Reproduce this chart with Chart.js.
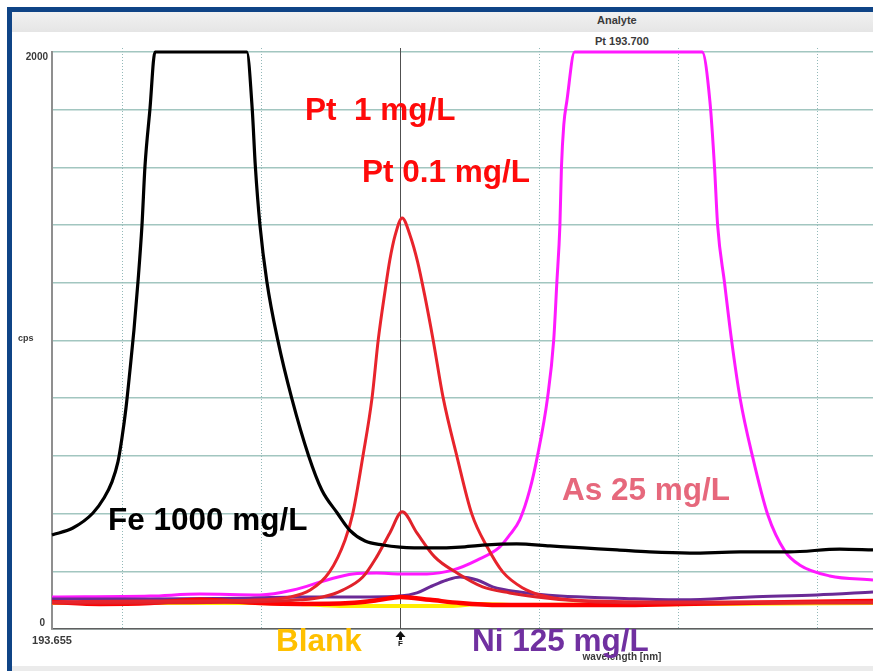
<!DOCTYPE html>
<html><head><meta charset="utf-8">
<script src="https://cdn.jsdelivr.net/npm/chart.js@4"></script>
<style>
html,body{margin:0;padding:0;width:873px;height:671px;overflow:hidden;background:#fff;font-family:"Liberation Sans",Arial,sans-serif;}
#frameL{position:absolute;left:7px;top:7px;width:5px;height:664px;background:#0f4486;}
#frameT{position:absolute;left:7px;top:7px;width:866px;height:5px;background:#0f4486;}
#hdr{position:absolute;left:12px;top:12px;width:861px;height:20px;background:linear-gradient(#f1f1f1,#e5e5e5);}
#ftr{position:absolute;left:12px;top:666px;width:861px;height:5px;background:#ebebeb;}
.small{position:absolute;font-weight:bold;font-size:11px;color:#3a3a3a;white-space:nowrap;line-height:11px;}
#wrap{position:absolute;left:0;top:0;width:873px;height:671px;}
</style></head>
<body>
<div id="frameL"></div><div id="frameT"></div><div id="hdr"></div><div id="ftr"></div>
<div class="small" style="left:597px;top:15px;">Analyte</div>
<div class="small" style="left:595px;top:36px;">Pt 193.700</div>
<div id="wrap"><canvas id="c" width="873" height="671"></canvas></div>
<script>
// ---- data (wavelength in nm, intensity in cps) ----
const xGrid = [193.664, 193.682, 193.700, 193.718, 193.736, 193.754];
const yTickLabels = ['0', '2000'];
const xTickLabel = '193.655';

const feWl  = [193.6550,193.6577,193.6603,193.66172,193.66276,193.66353,193.66405,193.66457,193.66509,193.66560,193.66612,193.66664,193.66703,193.66767,193.66832,193.6802,193.6809,193.6813,193.6819,193.6828,193.6842,193.6860,193.6882,193.6899,193.6919,193.6935,193.6955,193.6978,193.7000,193.7043,193.7078,193.7107,193.7151,193.7194,193.7237,193.7281,193.7323,193.7375,193.7440,193.7504,193.7569,193.7612];
const feCps = [326,350,402,454,510,579,662,766,898,1036,1203,1400,1605,1802,2000,2000,1802,1605,1400,1203,1002,801,600,482,402,343,305,291,284,281,284,291,295,288,281,274,267,263,267,267,277,274];

const pt1Wl  = [193.6550,193.6677,193.6806,193.6858,193.6884,193.6909,193.6929,193.6939,193.6952,193.6964,193.6972,193.6981,193.6987,193.6994,193.7003,193.7013,193.7023,193.7032,193.7043,193.7056,193.7074,193.7093,193.7113,193.7133,193.7159,193.7181,193.7220,193.7323,193.7612];
const pt1Cps = [94,97,100,111,135,198,308,399,596,801,1002,1175,1279,1366,1425,1366,1272,1158,1002,801,596,399,284,198,142,118,101,94,94];

const pt01Wl  = [193.6550,193.6806,193.6871,193.6900,193.6926,193.6952,193.6970,193.6987,193.7003,193.7022,193.7045,193.7074,193.7107,193.7142,193.7177,193.7233,193.7323,193.7612];
const pt01Cps = [90,94,101,111,135,180,250,333,406,333,250,194,146,125,111,97,90,90];

const redBaseWl  = [193.6550,193.6612,193.6677,193.6741,193.6819,193.6871,193.6935,193.6974,193.7000,193.7039,193.7078,193.7129,193.7207,193.7284,193.7362,193.7440,193.7517,193.7612];
const redBaseCps = [94,87,90,101,90,87,90,101,111,101,90,83,83,83,87,90,94,97];

const blankWl  = [193.6550,193.6806,193.6871,193.6922,193.7000,193.7065,193.7103,193.7155,193.7612];
const blankCps = [90,90,87,80,80,80,87,83,90];

const niWl  = [193.6550,193.6677,193.6806,193.6871,193.6961,193.7000,193.7022,193.7039,193.7061,193.7078,193.7100,193.7120,193.7155,193.7207,193.7281,193.7366,193.7453,193.7539,193.7612];
const niCps = [104,104,107,111,111,114,125,146,170,180,170,146,128,114,107,101,111,118,128];

const asWl  = [193.6550,193.6677,193.6741,193.6819,193.6862,193.6906,193.6939,193.6970,193.7000,193.7035,193.7069,193.7100,193.7129,193.7142,193.7155,193.7168,193.7178,193.7191,193.7199,193.7203,193.7207,193.7209,193.7212,193.7216,193.7226,193.7391,193.7401,193.7407,193.7411,193.7420,193.7429,193.7440,193.7456,193.7476,193.7498,193.7517,193.7556,193.7612];
const asCps = [111,114,121,118,135,170,191,194,191,191,205,239,284,326,378,482,600,801,1002,1199,1400,1601,1747,1830,2000,2000,1830,1601,1400,1199,1002,801,600,395,270,222,184,170];

// ---- helpers ----
const pts = (w, c) => w.map((v, i) => ({x: v, y: c[i]}));
const FONT = "'Liberation Sans', Arial, sans-serif";

const annotations = [
  {text: 'Pt  1 mg/L',   color: '#ff0a0a', x: 305, y: 120},
  {text: 'Pt 0.1 mg/L',  color: '#ff0a0a', x: 362, y: 182},
  {text: 'As 25 mg/L',   color: '#e6687c', x: 562, y: 500},
  {text: 'Fe 1000 mg/L', color: '#000000', x: 108, y: 530},
  {text: 'Blank',        color: '#ffc000', x: 276, y: 651},
  {text: 'Ni 125 mg/L',  color: '#7030a0', x: 472, y: 651}
];

const decor = {
  id: 'decor',
  beforeDatasetsDraw(chart) {
    const {ctx, chartArea: a, scales: {x}} = chart;
    ctx.save();
    xGrid.forEach(v => {
      const px = Math.round(x.getPixelForValue(v)) + 0.5;
      if (Math.abs(v - 193.7) < 1e-9) {
        ctx.strokeStyle = '#505050'; ctx.setLineDash([]); ctx.lineWidth = 1;
      } else {
        ctx.strokeStyle = '#93b9b9'; ctx.setLineDash([1, 2]); ctx.lineWidth = 1;
      }
      ctx.beginPath(); ctx.moveTo(px, a.top - 4); ctx.lineTo(px, a.bottom); ctx.stroke();
    });
    ctx.restore();
  },
  afterDraw(chart) {
    const {ctx, chartArea: a, scales: {x, y}} = chart;
    ctx.save();
    ctx.fillStyle = '#3a3a3a';
    ctx.font = 'bold 10px ' + FONT;
    ctx.textAlign = 'right'; ctx.textBaseline = 'middle';
    ctx.fillText(yTickLabels[1], a.left - 4, y.getPixelForValue(2000) + 5);
    ctx.fillText(yTickLabels[0], a.left - 7, y.getPixelForValue(0) - 6);
    ctx.font = 'bold 9px ' + FONT;
    ctx.textAlign = 'left';
    ctx.fillText('cps', 18, y.getPixelForValue(1000) - 2);
    ctx.font = 'bold 11px ' + FONT;
    ctx.textAlign = 'center'; ctx.textBaseline = 'top';
    ctx.fillText(xTickLabel, x.getPixelForValue(193.655), a.bottom + 6);
    ctx.font = 'bold 10px ' + FONT;
    ctx.fillText('wavelength [nm]', 622, 652);
    const fx = Math.round(x.getPixelForValue(193.7)) + 0.5;
    ctx.fillStyle = '#111';
    ctx.beginPath();
    ctx.moveTo(fx, a.bottom + 2); ctx.lineTo(fx - 5, a.bottom + 8); ctx.lineTo(fx + 5, a.bottom + 8); ctx.closePath(); ctx.fill();
    ctx.fillRect(fx - 1.5, a.bottom + 8, 3, 3);
    ctx.font = 'bold 8px ' + FONT;
    ctx.textAlign = 'center'; ctx.textBaseline = 'top';
    ctx.fillText('F', fx, a.bottom + 11);
    ctx.font = 'bold 31.5px ' + FONT;
    ctx.textAlign = 'left'; ctx.textBaseline = 'alphabetic';
    annotations.forEach(t => { ctx.fillStyle = t.color; ctx.fillText(t.text, t.x, t.y); });
    ctx.restore();
  }
};

new Chart(document.getElementById('c'), {
  type: 'line',
  data: {
    datasets: [
      {label: 'Fe 1000 mg/L', data: pts(feWl, feCps), borderColor: '#000000', borderWidth: 3.2},
      {label: 'Pt 1 mg/L', data: pts(pt1Wl, pt1Cps), borderColor: '#e8242c', borderWidth: 3},
      {label: 'Pt 0.1 mg/L', data: pts(pt01Wl, pt01Cps), borderColor: '#e0222a', borderWidth: 3},
      {label: 'Pt baseline', data: pts(redBaseWl, redBaseCps), borderColor: '#ff0000', borderWidth: 4.5},
      {label: 'Ni 125 mg/L', data: pts(niWl, niCps), borderColor: '#6a2a96', borderWidth: 3},
      {label: 'As 25 mg/L', data: pts(asWl, asCps), borderColor: '#ff19ff', borderWidth: 3},
      {label: 'Blank', data: pts(blankWl, blankCps), borderColor: '#ffee00', borderWidth: 4}
    ]
  },
  options: {
    responsive: false,
    animation: false,
    devicePixelRatio: 1,
    layout: {padding: {left: 52, top: 52, right: 0, bottom: 42}},
    plugins: {legend: {display: false}, tooltip: {enabled: false}},
    elements: {
      point: {radius: 0, hoverRadius: 0},
      line: {cubicInterpolationMode: 'monotone', fill: false}
    },
    datasets: {line: {clip: false}},
    scales: {
      x: {
        type: 'linear', min: 193.655, max: 193.7612,
        ticks: {display: false},
        grid: {display: false, drawTicks: false},
        border: {display: true, color: '#5f5f5f', width: 1.5}
      },
      y: {
        type: 'linear', min: 0, max: 2000,
        ticks: {display: false, stepSize: 200},
        grid: {color: '#a2c6c0', lineWidth: 1.5, drawTicks: false},
        border: {display: true, color: '#8f8f8f', width: 2}
      }
    }
  },
  plugins: [decor]
});
</script>
</body></html>
